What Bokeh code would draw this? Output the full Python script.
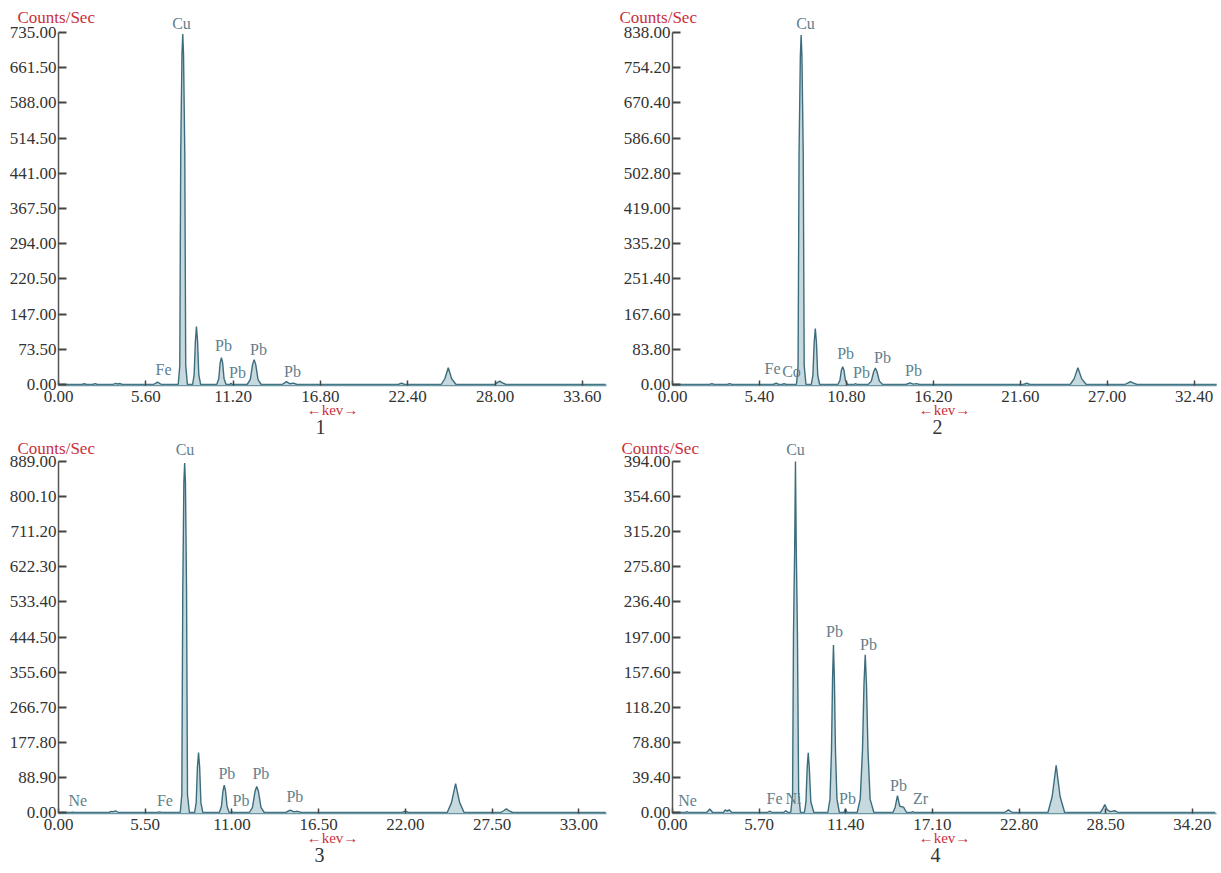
from bokeh.plotting import figure
from bokeh.models import Range1d, FixedTicker, PrintfTickFormatter, ColumnDataSource
from bokeh.layouts import column, row
from bokeh.embed import file_html
from bokeh.resources import INLINE
from bokeh.core.properties import value

# ---------------- data ----------------
# Spectrum 1
p1_kev = [0.0, 1.5, 1.65, 1.8, 2.2, 2.35, 2.5, 3.5, 3.65, 3.8, 3.95, 4.1,
          6.1, 6.35, 6.6,
          7.68, 7.78, 7.84, 7.92, 7.97, 8.02, 8.1, 8.16, 8.27,
          8.6, 8.7, 8.78, 8.85, 8.92, 9.0, 9.12,
          10.15, 10.28, 10.37, 10.45, 10.53, 10.62, 10.75,
          11.0, 11.07, 11.14,
          12.1, 12.3, 12.45, 12.55, 12.65, 12.8, 13.0,
          14.35, 14.62, 14.85, 15.07, 15.3,
          21.8, 22.0, 22.2,
          24.55, 24.78, 25.0, 25.22, 25.5,
          27.95, 28.15, 28.3, 28.45, 28.7, 35.1]
p1_cps = [0, 0, 1.5, 0, 0, 2, 0, 0, 2.5, 1, 2, 0,
          0, 5, 0,
          0, 40, 485, 690, 732, 690, 485, 40, 0,
          0, 20, 90, 121, 90, 20, 0,
          0, 12, 45, 56, 45, 12, 0,
          0, 3, 0,
          0, 10, 42, 52, 42, 10, 0,
          0, 6, 1.5, 3, 0,
          0, 3, 0,
          0, 12, 35, 12, 0,
          0, 4, 7, 4, 0, 0]
p1_lab = ["Cu", "Fe", "Pb", "Pb", "Pb", "Pb"]
p1_lab_kev = [7.89, 6.74, 10.58, 11.48, 12.83, 15.01]
p1_lab_cps = [754, 31, 81, 25, 73, 27]
p1_xticks = [0.0, 5.6, 11.2, 16.8, 22.4, 28.0, 33.6]
p1_yticks = [0.0, 73.5, 147.0, 220.5, 294.0, 367.5, 441.0, 514.5, 588.0, 661.5, 735.0]

# Spectrum 2
p2_kev = [0.0, 2.3, 2.45, 2.6, 3.4, 3.55, 3.7,
          6.25, 6.44, 6.6, 6.8, 6.93, 7.06,
          7.7, 7.8, 7.86, 7.94, 7.99, 8.04, 8.12, 8.18, 8.29,
          8.62, 8.72, 8.8, 8.87, 8.94, 9.02, 9.14,
          10.27, 10.4, 10.49, 10.57, 10.65, 10.74, 10.87,
          11.28, 11.37, 11.46,
          12.15, 12.35, 12.5, 12.6, 12.7, 12.85, 13.05,
          14.5, 14.75, 14.95, 15.15, 15.35,
          21.8, 22.0, 22.2,
          24.7, 24.95, 25.18, 25.41, 25.7,
          28.1, 28.3, 28.45, 28.6, 28.85, 33.8]
p2_cps = [0, 0, 2, 0, 0, 2, 0,
          0, 3, 0, 0, 2, 0,
          0, 45, 550, 780, 832, 780, 550, 45, 0,
          0, 22, 100, 133, 100, 22, 0,
          0, 10, 34, 42, 34, 10, 0,
          0, 2, 0,
          0, 8, 31, 39, 31, 8, 0,
          0, 4, 1, 2, 0,
          0, 3, 0,
          0, 14, 40, 14, 0,
          0, 4, 7, 4, 0, 0]
p2_lab = ["Cu", "Fe", "Co", "Pb", "Pb", "Pb", "Pb"]
p2_lab_kev = [8.26, 6.21, 7.39, 10.75, 11.74, 13.04, 14.97]
p2_lab_cps = [859, 38, 31, 74, 28, 64, 33]
p2_xticks = [0.0, 5.4, 10.8, 16.2, 21.6, 27.0, 32.4]
p2_yticks = [0.0, 83.8, 167.6, 251.4, 335.2, 419.0, 502.8, 586.6, 670.4, 754.2, 838.0]

# Spectrum 3
p3_kev = [0.0, 0.8, 0.9, 1.0, 3.2, 3.35, 3.5, 3.62, 3.8,
          6.25, 6.4, 6.55,
          7.72, 7.82, 7.88, 7.95, 8.0, 8.05, 8.12, 8.18, 8.3,
          8.63, 8.73, 8.81, 8.88, 8.95, 9.03, 9.15,
          10.2, 10.33, 10.43, 10.51, 10.59, 10.69, 10.82,
          10.92, 11.0, 11.08,
          12.1, 12.3, 12.46, 12.57, 12.68, 12.84, 13.05,
          14.4, 14.7, 14.92, 15.15, 15.4,
          21.8, 22.0, 22.2,
          24.65, 24.92, 25.18, 25.44, 25.72,
          28.05, 28.25, 28.4, 28.55, 28.8, 34.7]
p3_cps = [0, 0, 1, 0, 0, 3, 2, 4, 0,
          0, 1.5, 0,
          0, 45, 560, 836, 885, 836, 560, 45, 0,
          0, 25, 115, 152, 115, 25, 0,
          0, 15, 55, 69, 55, 15, 0,
          0, 2, 0,
          0, 13, 53, 66, 53, 13, 0,
          0, 6, 1.5, 3, 0,
          0, 3.5, 0,
          0, 25, 73, 25, 0,
          0, 5, 9, 5, 0, 0]
p3_lab = ["Cu", "Ne", "Fe", "Pb", "Pb", "Pb", "Pb"]
p3_lab_kev = [8.02, 1.23, 6.75, 10.68, 11.57, 12.83, 14.99]
p3_lab_cps = [919, 30, 30, 98, 30, 98, 40]
p3_xticks = [0.0, 5.5, 11.0, 16.5, 22.0, 27.5, 33.0]
p3_yticks = [0.0, 88.9, 177.8, 266.7, 355.6, 444.5, 533.4, 622.3, 711.2, 800.1, 889.0]

# Spectrum 4
p4_kev = [0.0, 0.85, 0.95, 1.05, 2.25, 2.45, 2.65, 3.35, 3.47, 3.6, 3.73, 3.9,
          6.25, 6.4, 6.55, 7.3, 7.45, 7.6,
          7.78, 7.9, 7.96, 8.04, 8.09, 8.14, 8.22, 8.3, 8.42,
          8.68, 8.78, 8.86, 8.93, 9.0, 9.1, 9.3,
          10.22, 10.36, 10.46, 10.53, 10.59, 10.65, 10.72, 10.82, 10.98,
          11.28, 11.38, 11.48,
          12.15, 12.35, 12.5, 12.6, 12.68, 12.76, 12.86, 13.0, 13.25,
          14.5, 14.65, 14.8, 14.95, 15.2, 15.4,
          15.7, 15.8, 15.9,
          21.85, 22.1, 22.35,
          24.7, 24.98, 25.24, 25.5, 25.8,
          28.15, 28.3, 28.44, 28.6, 28.8, 29.1, 29.3, 35.7]
p4_cps = [0, 0, 1, 0, 0, 4, 0, 0, 3, 1.5, 3, 0,
          0, 1.5, 0, 0, 2, 0,
          0, 20, 200, 300, 394, 300, 200, 20, 0,
          0, 12, 50, 67, 50, 12, 0,
          0, 15, 70, 150, 188, 150, 70, 15, 0,
          0, 4, 0,
          0, 15, 70, 145, 177, 145, 70, 15, 0,
          0, 6, 19, 7, 6, 0,
          0, 1, 0,
          0, 3, 0,
          0, 18, 53, 18, 0,
          0, 4, 9, 3, 1, 2, 0, 0]
p4_lab = ["Cu", "Ne", "Fe", "Ni", "Pb", "Pb", "Pb", "Pb", "Zr"]
p4_lab_kev = [8.09, 0.99, 6.71, 7.96, 10.66, 11.51, 12.89, 14.87, 16.32]
p4_lab_cps = [408, 13, 16, 16, 203, 16, 189, 30, 16]
p4_xticks = [0.0, 5.7, 11.4, 17.1, 22.8, 28.5, 34.2]
p4_yticks = [0.0, 39.4, 78.8, 118.2, 157.6, 197.0, 236.4, 275.8, 315.2, 354.6, 394.0]

panel_names = ["1", "2", "3", "4"]
y_title = "Counts/Sec"
x_title = "\u2190kev\u2192"

# ---------------- styling / layout ----------------
SERIF = "Liberation Serif"
LINE = "#3d6d7d"
FILL = "#bcd2d9"
PEAKTXT = "#5f808d"
RED = "#c9303a"
INK = "#333333"

# geometry in page pixels: figure box, pixel of the origin, pixels per unit
geo = [
    dict(ox=1, oy=1, w=609, h=438, x0=59, xs=15.59, xe=607, y0=385, yt=33, tx=18, ty=18, nx=321, ny=427),
    dict(ox=610, oy=1, w=608, h=438, x0=673, xs=16.1, xe=1217, y0=385, yt=33, tx=620, ty=18, nx=938, ny=427),
    dict(ox=1, oy=439, w=609, h=429, x0=59, xs=15.77, xe=607, y0=813, yt=462, tx=18, ty=449, nx=320, ny=855),
    dict(ox=610, oy=439, w=608, h=429, x0=673, xs=15.2, xe=1217, y0=813, yt=462, tx=622, ty=449, nx=936, ny=855),
]
series = [
    (p1_kev, p1_cps, p1_lab, p1_lab_kev, p1_lab_cps, p1_xticks, p1_yticks),
    (p2_kev, p2_cps, p2_lab, p2_lab_kev, p2_lab_cps, p2_xticks, p2_yticks),
    (p3_kev, p3_cps, p3_lab, p3_lab_kev, p3_lab_cps, p3_xticks, p3_yticks),
    (p4_kev, p4_cps, p4_lab, p4_lab_kev, p4_lab_cps, p4_xticks, p4_yticks),
]


def make(i):
    g = geo[i]
    kev, cps, lab, lk, lc, xt, yt = series[i]
    ymax = yt[-1]
    ys = (g["y0"] - g["yt"]) / ymax          # px per count
    xs = g["xs"]                              # px per keV

    def dx(px):
        return (px - g["x0"]) / xs

    def dy(py):
        return (g["y0"] - py) / ys

    p = figure(width=g["w"], height=g["h"], min_border=0,
               x_range=Range1d(dx(g["ox"]), dx(g["ox"] + g["w"])),
               y_range=Range1d(dy(g["oy"] + g["h"]), dy(g["oy"])),
               toolbar_location=None, output_backend="svg")
    p.outline_line_color = None
    p.grid.visible = False
    p.background_fill_color = "white"
    p.border_fill_color = "white"

    src = ColumnDataSource(dict(kev=kev, cps=cps))
    p.varea(x="kev", y1=0, y2="cps", source=src, fill_color=FILL, fill_alpha=0.85)
    p.line(x="kev", y="cps", source=src, line_color=LINE, line_width=1.4)

    lsrc = ColumnDataSource(dict(x=lk, y=lc, t=lab))
    p.text(x="x", y="y", text="t", source=lsrc, text_font=value(SERIF), text_font_size="16px",
           text_color=PEAKTXT, text_align="center", text_baseline="middle")

    # "Counts/Sec" and panel number
    p.text(x=[dx(g["tx"])], y=[dy(g["ty"])], text=[y_title], text_font=value(SERIF),
           text_font_size="17px", text_color=RED, text_align="left", text_baseline="middle")
    p.text(x=[dx(g["nx"])], y=[dy(g["ny"])], text=[panel_names[i]], text_font=value(SERIF),
           text_font_size="20px", text_color=INK, text_align="center", text_baseline="middle")

    x_end = dx(g["xe"])

    xa = p.xaxis[0]
    xa.fixed_location = dy(g["y0"] + 1)
    xa.bounds = (0, x_end)
    xa.ticker = FixedTicker(ticks=xt)
    xa.formatter = PrintfTickFormatter(format="%.2f")
    xa.major_tick_in = 5
    xa.major_tick_out = 0
    xa.major_tick_line_color = "#444444"
    xa.major_tick_line_width = 1.5
    xa.minor_tick_line_color = None
    xa.axis_line_color = "#6a97a3"
    xa.axis_line_width = 1.5
    xa.major_label_text_font = SERIF
    xa.major_label_text_font_size = "17px"
    xa.major_label_text_color = INK
    xa.major_label_standoff = 5
    xa.axis_label = x_title
    xa.axis_label_text_color = RED
    xa.axis_label_text_font = SERIF
    xa.axis_label_text_font_size = "15px"
    xa.axis_label_text_font_style = "normal"
    xa.axis_label_standoff = -3

    ya = p.yaxis[0]
    ya.fixed_location = 0
    ya.bounds = (0, ymax)
    ya.ticker = FixedTicker(ticks=yt)
    ya.formatter = PrintfTickFormatter(format="%.2f")
    ya.major_tick_in = 8
    ya.major_tick_out = 0
    ya.major_tick_line_color = "#444444"
    ya.major_tick_line_width = 2
    ya.minor_tick_line_color = None
    ya.axis_line_color = "#555555"
    ya.axis_line_width = 1.5
    ya.major_label_text_font = SERIF
    ya.major_label_text_font_size = "17px"
    ya.major_label_text_color = INK
    ya.major_label_standoff = 2
    return p


figs = [make(i) for i in range(4)]
layout = column(row(figs[0], figs[1]), row(figs[2], figs[3]))
open("out.html", "w").write(file_html(layout, INLINE))
